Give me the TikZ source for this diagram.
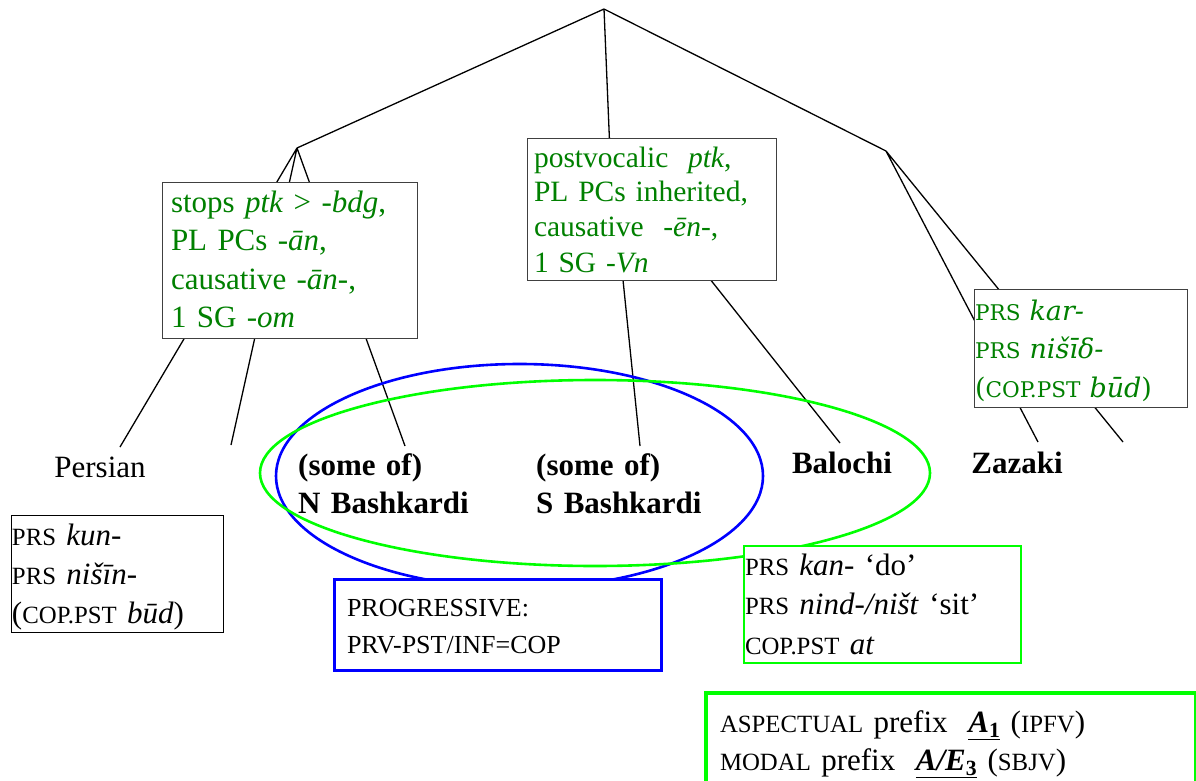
\documentclass[tikz,border=0pt]{standalone}
\usepackage{fontspec}
\setmainfont{Liberation Serif}
\newfontfamily\zazafont{DejaVu Serif}
\usepackage{tikz}
\definecolor{featgreen}{HTML}{008000}
\definecolor{loopgreen}{HTML}{00FF00}
\definecolor{loopblue}{HTML}{0000FF}
\definecolor{boxline}{HTML}{404040}
\makeatletter
\newcommand\gsc[1]{{\fontsize{\fpeval{0.8*\f@size}}{0}\selectfont #1}}
\makeatother
\tikzset{
  branch/.style={draw=black, line width=1.3pt},
  featbox/.style={draw=boxline, line width=1pt, fill=white, anchor=north west, outer sep=0pt,
    inner ysep=0pt, align=left, text=featgreen, font=\fontsize{31}{38.5}\selectfont},
  glossbox/.style={featbox, draw=black, text=black},
  leaf/.style={inner sep=0pt, anchor=base, font=\fontsize{31}{38}\selectfont},
  bleaf/.style={leaf, font=\fontsize{31}{38}\selectfont\bfseries},
  bleaftwo/.style={bleaf, align=left, text width=220pt, anchor=base west},
  blueloop/.style={draw=loopblue, line width=2.6pt},
  greenloop/.style={draw=loopgreen, line width=2.6pt}
}
\begin{document}
\begin{tikzpicture}[x=1pt, y=-1pt]
  \useasboundingbox (0,0) rectangle (1196,781);
  \clip (0,0) rectangle (1196,781);

  \coordinate (root) at (604,9);
  \coordinate (west) at (297,148);
  \coordinate (mid) at (610,153);
  \coordinate (east) at (886,151);

  \coordinate (persianTop) at (120,447);
  \coordinate (gapTop) at (231,445);
  \coordinate (nbashTop) at (405,446);
  \coordinate (sbashTop) at (640,446);
  \coordinate (balochiTop) at (840,443);
  \coordinate (zazakiTop) at (1038,442);
  \coordinate (eastgapTop) at (1123,442);

  \draw[branch] (root)--(west) (root)--(mid) (root)--(east);
  \draw[branch] (west)--(persianTop) (west)--(gapTop) (west)--(nbashTop);
  \draw[branch] (mid)--(sbashTop) (mid)--(balochiTop);
  \draw[branch] (east)--(zazakiTop) (east)--(eastgapTop);

  \node[leaf] (persian) at (100,477) {Persian};
  \node[bleaftwo] (nbash) at (298,475) {(some of)\\N Bashkardi};
  \node[bleaftwo] (sbash) at (536,475) {(some of)\\S Bashkardi};
  \node[bleaf] (balochi) at (842,473) {Balochi};
  \node[bleaf] (zazaki) at (1017,473) {Zazaki};

  \draw[blueloop] (519.5,476) ellipse [x radius=243.5, y radius=112];
  \draw[greenloop] (595,473) ellipse [x radius=335, y radius=93];

  % features of the branches
  \node[featbox, inner xsep=9pt, text width=237pt, text height=30pt, text depth=126pt] (westfeat) at (162,182)
    {stops \textit{ptk} > \textit{-bdg},\\PL PCs \textit{-ān},\\causative \textit{-ān-},\\1 SG \textit{-om}};
  \node[featbox, font=\fontsize{29.5}{35}\selectfont, inner xsep=7pt, text width=235pt, text height=28pt, text depth=113pt] (midfeat) at (527,139)
    {postvocalic~ \textit{ptk},\\PL PCs inherited,\\causative~ \textit{-ēn-},\\1 SG \textit{-Vn}};
  \node[featbox, font=\zazafont\fontsize{27}{38.5}\selectfont, inner xsep=1pt, text width=211pt, text height=31pt, text depth=87pt] (eastfeat) at (974,289)
    {\gsc{PRS} \textit{kar-}\\\gsc{PRS} \textit{nišīδ-}\\(\gsc{COP.PST} \textit{būd})};

  % glosses
  \node[glossbox, font=\fontsize{31}{39}\selectfont, inner xsep=1pt, text width=210pt, text height=30pt, text depth=87pt] (persianGloss) at (11,515)
    {\gsc{PRS} \textit{kun-}\\\gsc{PRS} \textit{nišīn-}\\(\gsc{COP.PST} \textit{būd})};
  \node[glossbox, draw=loopblue, line width=3pt, font=\fontsize{26}{37}\selectfont, inner xsep=13pt, text width=301pt, text height=37pt, text depth=54pt] (progressive) at (334,579)
    {PROGRESSIVE:\\PRV-PST/INF=COP};
  \node[glossbox, draw=loopgreen, line width=2pt, font=\fontsize{31}{39.5}\selectfont, inner xsep=1pt, text width=275pt, text height=29pt, text depth=88pt] (balochiGloss) at (744,546)
    {\gsc{PRS} \textit{kan-} ‘do’\\\gsc{PRS} \textit{nind-/ništ} ‘sit’\\\gsc{COP.PST} \textit{at}};
  \node[glossbox, draw=loopgreen, line width=4pt, font=\fontsize{31}{38}\selectfont, inner xsep=14pt, text width=462pt, text height=39pt, text depth=100pt] (prefixes) at (706,693)
    {\gsc{ASPECTUAL} prefix~ \underline{\textbf{\textit{A}\textsubscript{1}}} (\gsc{IPFV})\\\gsc{MODAL} prefix~ \underline{\textbf{\textit{A/E}\textsubscript{3}}} (\gsc{SBJV})};
\end{tikzpicture}
\end{document}
